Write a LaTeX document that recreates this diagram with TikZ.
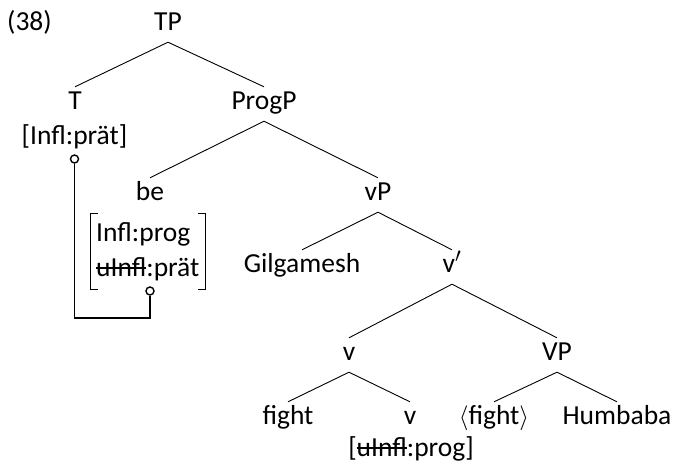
\documentclass[tikz,border=0pt]{standalone}
\usepackage{fontspec}
\setmainfont{Carlito}
\usetikzlibrary{positioning}
\newcommand{\strk}[1]{\setbox0\hbox{#1}\rlap{\rule[0.25em]{\wd0}{2pt}}\box0}

\begin{document}
\begin{tikzpicture}[x=1pt,y=-1pt,font=\fontsize{27.5}{35}\selectfont]
  \tikzstyle{cat}=[inner xsep=2pt,inner ysep=6pt,text height=16pt,text depth=6pt,anchor=base]
  \tikzstyle{feat}=[inner sep=0pt,anchor=base]
  \tikzstyle{fmat}=[inner xsep=6pt,inner ysep=9pt,align=left,anchor=north west]
  \tikzstyle{plug}=[circle,draw,fill=white,line width=1.4pt,minimum size=8pt,inner sep=0pt]
  \tikzstyle{link}=[line width=1.8pt]
  \useasboundingbox (0,0) rectangle (674,463);

  \node[feat,anchor=base west] (ex) at (7,30) {(38)};
  \node[cat] (TP) at (168,30) {TP};
  \node[cat] (T) at (75,109) {T};
  \node[feat] (Tfeat) at (74.5,144) {[Infl:prät]};
  \node[cat] (ProgP) at (264,109) {ProgP};
  \node[cat] (be) at (150,200) {be};
  \node[fmat] (fm) at (90,213) {Infl:prog\\\strk{uInfl}:prät};
  \node[cat] (vP) at (378,200) {vP};
  \node[cat] (Gil) at (302,272) {Gilgamesh};
  \node[cat] (vbar) at (452,272) {v$'$};
  \node[cat] (v) at (349,360) {v};
  \node[cat] (VP) at (557,360) {VP};
  \node[cat] (fight) at (288,424) {fight};
  \node[cat] (vlow) at (410,424) {v};
  \node[feat] (vfeat) at (411,456) {[\strk{uInfl}:prog]};
  \node[cat] (copy) at (494,424) {$\langle$fight$\rangle$};
  \node[cat] (Hum) at (617,424) {Humbaba};

  \path[line width=0.9pt]
  (TP.south) edge (T.north)
  (TP.south) edge (ProgP.north)
  (ProgP.south) edge (be.north)
  (ProgP.south) edge (vP.north)
  (vP.south) edge (Gil.north)
  (vP.south) edge (vbar.north)
  (vbar.south) edge (v.north)
  (vbar.south) edge (VP.north)
  (v.south) edge (fight.north)
  (v.south) edge (vlow.north)
  (VP.south) edge (copy.north)
  (VP.south) edge (Hum.north);

  \draw[line width=1pt] ([xshift=8pt]fm.north west) -- (fm.north west) -- (fm.south west) -- ([xshift=8pt]fm.south west);
  \draw[line width=1pt] ([xshift=-8pt]fm.north east) -- (fm.north east) -- (fm.south east) -- ([xshift=-8pt]fm.south east);

  \node[plug] (pa) at (74.5,159) {};
  \node[plug] (pb) at (150,291) {};
  \coordinate (low) at (0,318);
  \draw[link] (pa.south) -- (pa |- low) -| (pb.south);
\end{tikzpicture}
\end{document}
